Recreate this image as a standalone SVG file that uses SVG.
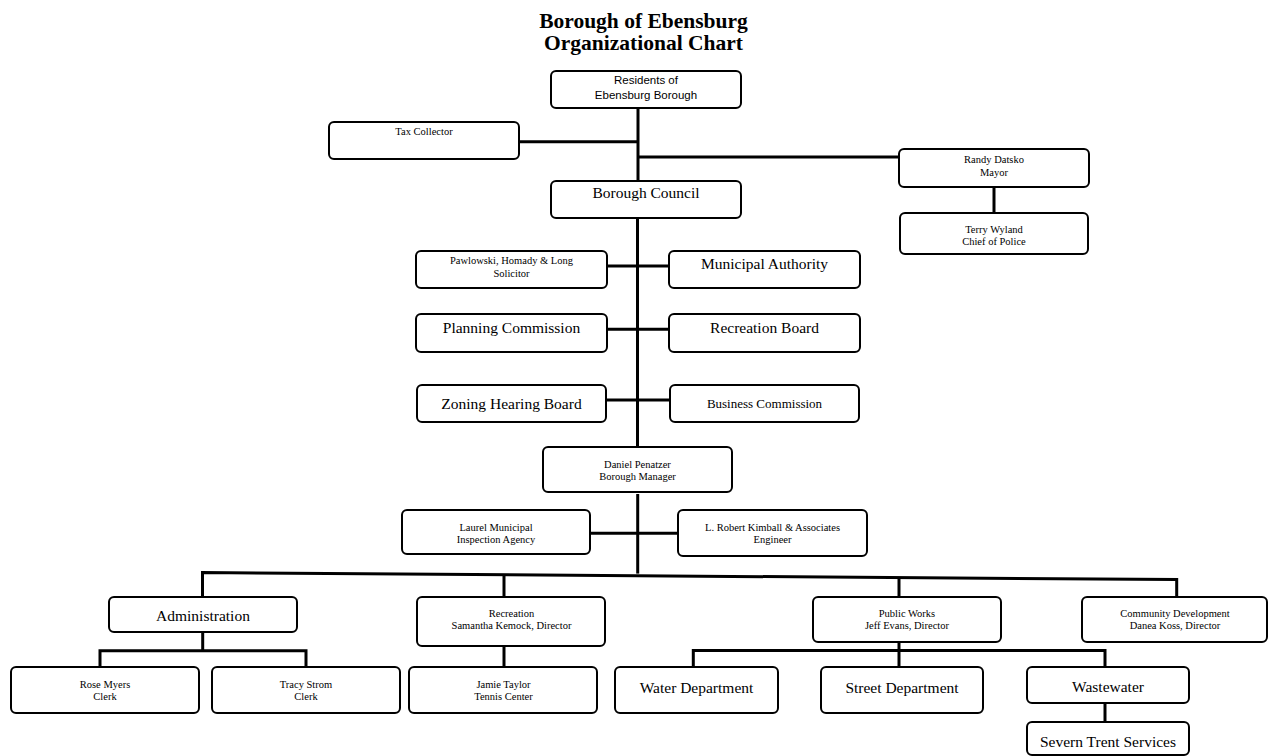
<svg xmlns="http://www.w3.org/2000/svg" width="1268" height="756" viewBox="0 0 1268 756">
<style>
  .box { fill: #ffffff; stroke: #000000; stroke-width: 2; }
  .conn { fill: none; stroke: #000000; stroke-width: 3; }
  .title { font-family: "Liberation Serif", "Times New Roman", serif; font-weight: bold; font-size: 21.5px; fill: #000; text-anchor: middle; }
  .sm { font-family: "Liberation Serif", "Times New Roman", serif; font-size: 10.5px; fill: #000; text-anchor: middle; }
  .md { font-family: "Liberation Serif", "Times New Roman", serif; font-size: 13px; fill: #000; text-anchor: middle; }
  .lg { font-family: "Liberation Serif", "Times New Roman", serif; font-size: 15.5px; fill: #000; text-anchor: middle; }
  .sans { font-family: "Liberation Sans", Arial, sans-serif; font-size: 11.5px; fill: #000; text-anchor: middle; }
</style>

<g id="title">
  <text class="title" x="643.5" y="27.5">Borough of Ebensburg</text>
  <text class="title" x="643.5" y="50">Organizational Chart</text>
</g>

<g id="connectors">
  <path class="conn" d="M638,108 V181"/>
  <path class="conn" d="M519,141.7 H638"/>
  <path class="conn" d="M638,157 H899"/>
  <path class="conn" d="M994,187 V213"/>
  <path class="conn" d="M637.5,218 V447"/>
  <path class="conn" d="M607,266 H669"/>
  <path class="conn" d="M607,329.3 H669"/>
  <path class="conn" d="M606,400 H670"/>
  <path class="conn" d="M637.7,494 V573.6"/>
  <path class="conn" d="M590,533.3 H678"/>
  <path class="conn" d="M202.5,597 V572.6 L1176.7,579.6 V597"/>
  <path class="conn" d="M504,574.8 V597"/>
  <path class="conn" d="M899,577.6 V597"/>
  <path class="conn" d="M202.7,632 V650.7"/>
  <path class="conn" d="M100,667 V650.7 H306 V667"/>
  <path class="conn" d="M504,646 V667"/>
  <path class="conn" d="M899,642 V667"/>
  <path class="conn" d="M693.3,667 V650.5 H1105 V667"/>
  <path class="conn" d="M1105,703 V722"/>
</g>

<g id="residents">
  <rect class="box" x="551" y="71" width="190" height="37" rx="5"/>
  <text class="sans" x="646" y="84">Residents of</text>
  <text class="sans" x="646" y="99">Ebensburg Borough</text>
</g>
<g id="tax-collector">
  <rect class="box" x="329" y="122" width="190" height="37" rx="5"/>
  <text class="sm" x="424" y="134.7">Tax Collector</text>
</g>
<g id="borough-council">
  <rect class="box" x="551" y="181" width="190" height="37" rx="5"/>
  <text class="lg" x="646" y="198.3">Borough Council</text>
</g>
<g id="mayor">
  <rect class="box" x="899" y="149" width="190" height="38" rx="5"/>
  <text class="sm" x="994" y="162.7">Randy Datsko</text>
  <text class="sm" x="994" y="176.3">Mayor</text>
</g>
<g id="chief-of-police">
  <rect class="box" x="900" y="213" width="188" height="41" rx="5"/>
  <text class="sm" x="994" y="232.7">Terry Wyland</text>
  <text class="sm" x="994" y="245.4">Chief of Police</text>
</g>
<g id="solicitor">
  <rect class="box" x="416" y="251" width="191" height="37" rx="5"/>
  <text class="sm" x="511.5" y="264.4">Pawlowski, Homady &amp; Long</text>
  <text class="sm" x="511.5" y="277">Solicitor</text>
</g>
<g id="municipal-authority">
  <rect class="box" x="669" y="251" width="191" height="37" rx="5"/>
  <text class="lg" x="764.5" y="269.2">Municipal Authority</text>
</g>
<g id="planning-commission">
  <rect class="box" x="416" y="314" width="191" height="38" rx="5"/>
  <text class="lg" x="511.5" y="332.5">Planning Commission</text>
</g>
<g id="recreation-board">
  <rect class="box" x="669" y="314" width="191" height="38" rx="5"/>
  <text class="lg" x="764.5" y="332.5">Recreation Board</text>
</g>
<g id="zoning-hearing-board">
  <rect class="box" x="417" y="385" width="189" height="37" rx="5"/>
  <text class="lg" x="511.5" y="409.2">Zoning Hearing Board</text>
</g>
<g id="business-commission">
  <rect class="box" x="670" y="385" width="189" height="37" rx="5"/>
  <text class="md" x="764.5" y="407.8">Business Commission</text>
</g>
<g id="borough-manager">
  <rect class="box" x="543" y="447" width="189" height="45" rx="5"/>
  <text class="sm" x="637.5" y="468">Daniel Penatzer</text>
  <text class="sm" x="637.5" y="480.4">Borough Manager</text>
</g>
<g id="inspection-agency">
  <rect class="box" x="402" y="510" width="188" height="44" rx="5"/>
  <text class="sm" x="496" y="531.4">Laurel Municipal</text>
  <text class="sm" x="496" y="543">Inspection Agency</text>
</g>
<g id="engineer">
  <rect class="box" x="678" y="510" width="189" height="46" rx="5"/>
  <text class="sm" x="772.5" y="531.4">L. Robert Kimball &amp; Associates</text>
  <text class="sm" x="772.5" y="543">Engineer</text>
</g>
<g id="administration">
  <rect class="box" x="109" y="597" width="188" height="35" rx="5"/>
  <text class="lg" x="203" y="621.2">Administration</text>
</g>
<g id="recreation">
  <rect class="box" x="417" y="597" width="188" height="49" rx="5"/>
  <text class="sm" x="511.5" y="617">Recreation</text>
  <text class="sm" x="511.5" y="629.4">Samantha Kemock, Director</text>
</g>
<g id="public-works">
  <rect class="box" x="813" y="597" width="188" height="45" rx="5"/>
  <text class="sm" x="907" y="617">Public Works</text>
  <text class="sm" x="907" y="629.4">Jeff Evans, Director</text>
</g>
<g id="community-development">
  <rect class="box" x="1082" y="597" width="185" height="45" rx="5"/>
  <text class="sm" x="1175" y="617">Community Development</text>
  <text class="sm" x="1175" y="629.4">Danea Koss, Director</text>
</g>
<g id="rose-myers">
  <rect class="box" x="11" y="667" width="188" height="46" rx="5"/>
  <text class="sm" x="105" y="687.7">Rose Myers</text>
  <text class="sm" x="105" y="700.4">Clerk</text>
</g>
<g id="tracy-strom">
  <rect class="box" x="212" y="667" width="188" height="46" rx="5"/>
  <text class="sm" x="306" y="687.7">Tracy Strom</text>
  <text class="sm" x="306" y="700.4">Clerk</text>
</g>
<g id="jamie-taylor">
  <rect class="box" x="409" y="667" width="188" height="46" rx="5"/>
  <text class="sm" x="503.5" y="687.7">Jamie Taylor</text>
  <text class="sm" x="503.5" y="700.4">Tennis Center</text>
</g>
<g id="water-department">
  <rect class="box" x="615" y="667" width="163" height="46" rx="5"/>
  <text class="lg" x="696.5" y="692.9">Water Department</text>
</g>
<g id="street-department">
  <rect class="box" x="821" y="667" width="162" height="46" rx="5"/>
  <text class="lg" x="902" y="692.9">Street Department</text>
</g>
<g id="wastewater">
  <rect class="box" x="1027" y="667" width="162" height="36" rx="5"/>
  <text class="lg" x="1108" y="691.9">Wastewater</text>
</g>
<g id="severn-trent">
  <rect class="box" x="1027" y="722" width="162" height="33" rx="5"/>
  <text class="lg" x="1108" y="746.9">Severn Trent Services</text>
</g>
</svg>
